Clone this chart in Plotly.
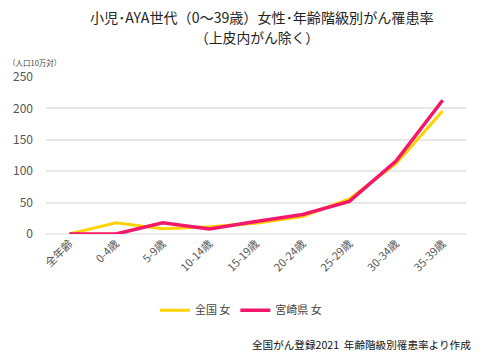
import plotly.graph_objects as go

categories = ["全年齢", "0-4歳", "5-9歳", "10-14歳", "15-19歳", "20-24歳", "25-29歳", "30-34歳", "35-39歳"]
national_f = [0, 18, 8.5, 11.5, 17, 28, 56, 112, 196]
miyazaki_f = [0, 0, 18, 8, 20, 31, 52, 116, 213]
y_ticks = [0, 50, 100, 150, 200, 250]

FONT = "Noto Sans CJK JP"

fig = go.Figure()
fig.add_trace(go.Scatter(x=categories, y=national_f, mode="lines", name="全国 女",
                         line=dict(color="#FFD300", width=3)))
fig.add_trace(go.Scatter(x=categories, y=miyazaki_f, mode="lines", name="宮崎県 女",
                         line=dict(color="#F5176A", width=3.5)))

fig.update_layout(
    width=494, height=359,
    margin=dict(l=38, r=36, t=69, b=133, autoexpand=False),
    paper_bgcolor="white", plot_bgcolor="white",
    font=dict(family=FONT, color="#444"),
    xaxis=dict(type="category", range=[-0.5, 8.5], showgrid=False, showline=False,
               tickangle=-45, tickfont=dict(size=11, color="#555"), ticks="",
               automargin=False),
    yaxis=dict(range=[0, 250], tickvals=y_ticks, showgrid=True, gridcolor="#e8e8e8",
               gridwidth=1.5, zeroline=True, zerolinecolor="#ececec", zerolinewidth=2,
               tickfont=dict(size=12, color="#555"), ticks="", ticklabelstandoff=12,
               automargin=False),
    legend=dict(orientation="h", x=0.464, xanchor="center", y=-0.485, yanchor="middle",
                font=dict(size=11, color="#444"), itemwidth=30, traceorder="normal"),
    showlegend=True,
)
fig.add_annotation(text="小児･AYA世代（0～39歳）女性･年齢階級別がん罹患率", xref="paper", yref="paper",
                   x=0.514, y=1.0 + (77 - 17) / 157, xanchor="center", yanchor="middle",
                   showarrow=False, font=dict(size=14.1, color="#222"))
fig.add_annotation(text="（上皮内がん除く）", xref="paper", yref="paper",
                   x=0.502, y=1.0 + (77 - 37.5) / 157, xanchor="center", yanchor="middle",
                   showarrow=False, font=dict(size=13.8, color="#222"))
fig.add_annotation(text="（人口10万対）", xref="paper", yref="paper", x=-0.095, y=1.0 + (77 - 62) / 157,
                   xanchor="left", yanchor="middle", showarrow=False,
                   font=dict(size=7.5, color="#444"))
fig.add_annotation(text="全国がん登録2021  年齢階級別罹患率より作成", xref="paper", yref="paper",
                   x=1.017, y=-0.707, xanchor="right", yanchor="middle", showarrow=False,
                   font=dict(size=10.6, color="#111"))

fig.write_html("out.html")
